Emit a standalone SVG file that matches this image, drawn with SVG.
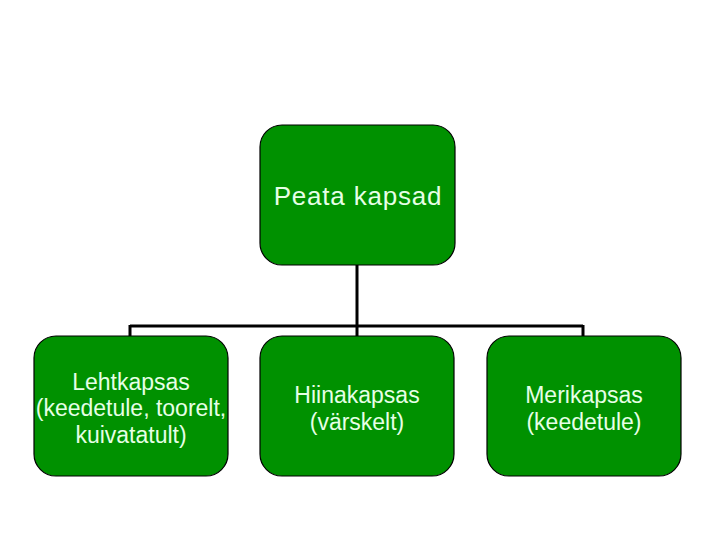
<svg xmlns="http://www.w3.org/2000/svg" width="720" height="540" viewBox="0 0 720 540">
<style>
.box{fill:#009100;stroke:#000;stroke-width:1.2}
.lbl{font-family:"Liberation Sans",Arial,sans-serif;font-size:23px;fill:#e6ffe6;text-anchor:middle}
.top{font-size:26px;letter-spacing:0.8px}
.con{fill:none;stroke:#000;stroke-width:3}
</style>
<rect width="720" height="540" fill="#fff"/>
<g id="connectors">
<path class="con" d="M357,265 V326 M130,326 H583 M130,325 V337 M357,326 V337 M583,325 V337"/>
</g>
<g id="n0"><rect class="box" x="260" y="125" width="195" height="140" rx="22"/><text class="lbl top" x="358" y="205">Peata kapsad</text></g>
<g id="n1"><rect class="box" x="34" y="336" width="194" height="140" rx="22"/><text class="lbl" x="131" y="390">Lehtkapsas</text><text class="lbl" x="131" y="416">(keedetule, toorelt,</text><text class="lbl" x="131" y="443">kuivatatult)</text></g>
<g id="n2"><rect class="box" x="260" y="336" width="194" height="140" rx="22"/><text class="lbl" x="357" y="403">Hiinakapsas</text><text class="lbl" x="357" y="430">(värskelt)</text></g>
<g id="n3"><rect class="box" x="487" y="336" width="194" height="140" rx="22"/><text class="lbl" x="584" y="403">Merikapsas</text><text class="lbl" x="584" y="430">(keedetule)</text></g>
</svg>
